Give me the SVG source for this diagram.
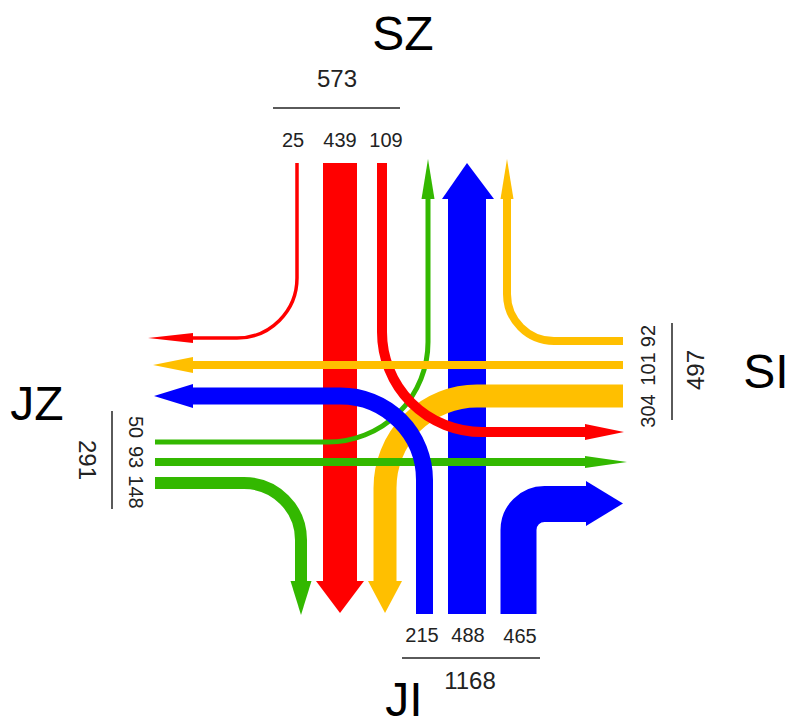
<svg xmlns="http://www.w3.org/2000/svg" width="791" height="727" viewBox="0 0 791 727">
<style>
.r{stroke:#FF0000;fill:none}
.b{stroke:#0000FF;fill:none}
.g{stroke:#33B800;fill:none}
.y{stroke:#FFBF00;fill:none}
.rf{fill:#FF0000}
.bf{fill:#0000FF}
.gf{fill:#33B800}
.yf{fill:#FFBF00}
text{font-family:"Liberation Sans",Arial,sans-serif;fill:#000}
.big{font-size:48px;text-anchor:middle}
.tot{font-size:24px;text-anchor:middle;fill:#222}
.lab{font-size:20px;text-anchor:middle;fill:#222}
.rule{stroke:#5a5a5a;stroke-width:2}
</style>
<rect width="791" height="727" fill="#fff"/>
<g id="connectors">
  <g id="SZ-439-straight">
    <rect class="rf" x="323" y="163" width="34" height="418"/>
    <polygon class="rf" points="316,581 364,581 340,613"/>
  </g>
  <g id="JI-488-straight">
    <rect class="bf" x="448" y="199" width="38" height="415"/>
    <polygon class="bf" points="442,199 494,199 467,163"/>
  </g>
  <g id="JZ-50-left">
    <path class="g" stroke-width="5" d="M155,442 H328 A100,100 0 0 0 428,342 V199"/>
    <polygon class="gf" points="421.5,199 434.5,199 428,159"/>
  </g>
  <g id="SI-304-left">
    <path class="y" stroke-width="23" d="M623,396 H477 A92,92 0 0 0 385,488 V581"/>
    <polygon class="yf" points="368,581 402,581 385,613"/>
  </g>
  <g id="JZ-93-straight">
    <path class="g" stroke-width="8" d="M155,462 H585"/>
    <polygon class="gf" points="585,456 585,468 627,462"/>
  </g>
  <g id="JZ-148-right">
    <path class="g" stroke-width="12" d="M155,483 H244 A57,57 0 0 1 301,540 V581"/>
    <polygon class="gf" points="290.5,581 311.5,581 301,615"/>
  </g>
  <g id="SZ-109-left">
    <path class="r" stroke-width="10" d="M382,163 V332 A100,100 0 0 0 482,432 H585"/>
    <polygon class="rf" points="585,424 585,440 624,432"/>
  </g>
  <g id="SZ-25-right">
    <path class="r" stroke-width="3.5" d="M297,163 V278 A60,60 0 0 1 237,338 H193"/>
    <polygon class="rf" points="193,333 193,343 148,338"/>
  </g>
  <g id="JI-215-left">
    <path class="b" stroke-width="17" d="M424.5,614 V480 A84,84 0 0 0 340.5,396 H193"/>
    <polygon class="bf" points="193,384 193,408 154,396"/>
  </g>
  <g id="JI-465-right">
    <path class="b" stroke-width="36" d="M518.5,614 V530 A26,26 0 0 1 544.5,504 H586"/>
    <polygon class="bf" points="586,481 586,526 623,503.5"/>
  </g>
  <g id="SI-101-straight">
    <path class="y" stroke-width="8" d="M623,365 H193"/>
    <polygon class="yf" points="193,357 193,373 153,365"/>
  </g>
  <g id="SI-92-right">
    <path class="y" stroke-width="8" d="M623,341 H554 A47,47 0 0 1 507,294 V199"/>
    <polygon class="yf" points="500.5,199 513.5,199 507,159"/>
  </g>
</g>
<g id="SZ">
  <text class="big" x="403" y="50">SZ</text>
  <text class="tot" x="337" y="87">573</text>
  <line class="rule" x1="273" y1="108" x2="400" y2="108"/>
  <text class="lab" x="293" y="147">25</text>
  <text class="lab" x="340" y="147">439</text>
  <text class="lab" x="386" y="147">109</text>
</g>
<g id="SI">
  <text class="big" x="766" y="388">SI</text>
  <line class="rule" x1="672" y1="323" x2="672" y2="420"/>
  <text class="tot" transform="translate(704,370) rotate(-90)">497</text>
  <text class="lab" transform="translate(655,411) rotate(-90)">304</text>
  <text class="lab" transform="translate(655,369) rotate(-90)">101</text>
  <text class="lab" transform="translate(655,336) rotate(-90)">92</text>
</g>
<g id="JZ">
  <text class="big" x="37" y="420">JZ</text>
  <line class="rule" x1="112" y1="411" x2="112" y2="509"/>
  <text class="tot" transform="translate(79,460) rotate(90)">291</text>
  <text class="lab" transform="translate(129,427) rotate(90)">50</text>
  <text class="lab" transform="translate(129,457) rotate(90)">93</text>
  <text class="lab" transform="translate(129,492) rotate(90)">148</text>
</g>
<g id="JI">
  <text class="lab" x="422" y="642">215</text>
  <text class="lab" x="468" y="642">488</text>
  <text class="lab" x="520" y="643">465</text>
  <line class="rule" x1="402" y1="658" x2="540" y2="658"/>
  <text class="tot" x="470" y="689">1168</text>
  <text class="big" x="404" y="716">JI</text>
</g>
</svg>
